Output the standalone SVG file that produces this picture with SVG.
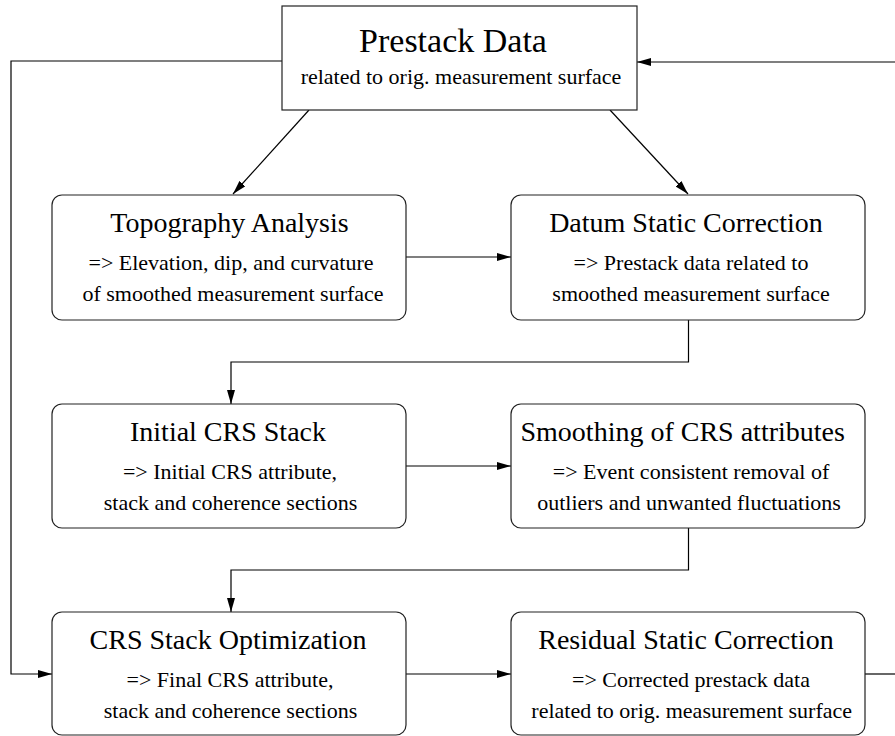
<svg xmlns="http://www.w3.org/2000/svg" width="895" height="736" viewBox="0 0 895 736">
  <style>
    .box { fill: #ffffff; stroke: #222222; stroke-width: 1.2; }
    .edge { fill: none; stroke: #000000; stroke-width: 1.2; }
    .title { font-family: "Liberation Serif", "Times New Roman", serif; font-size: 28px; fill: #000; text-anchor: middle; }
    .big { font-family: "Liberation Serif", "Times New Roman", serif; font-size: 34px; fill: #000; text-anchor: middle; }
    .sub { font-family: "Liberation Serif", "Times New Roman", serif; font-size: 22px; fill: #000; text-anchor: middle; }
  </style>
  <defs>
    <marker id="arrow" markerWidth="14" markerHeight="8" refX="14" refY="4" orient="auto" markerUnits="userSpaceOnUse">
      <path d="M0,0 L14,4 L0,8 Z" fill="#000"/>
    </marker>
  </defs>
  <rect width="895" height="736" fill="#ffffff"/>

  <g id="connectors">
    <!-- prestack data to the first two processing steps -->
    <line class="edge" x1="309" y1="110" x2="233" y2="194" marker-end="url(#arrow)"/>
    <line class="edge" x1="610" y1="110" x2="688" y2="194" marker-end="url(#arrow)"/>
    <!-- horizontal steps -->
    <line class="edge" x1="406" y1="257" x2="511" y2="257" marker-end="url(#arrow)"/>
    <line class="edge" x1="406" y1="466" x2="511" y2="466" marker-end="url(#arrow)"/>
    <line class="edge" x1="406" y1="674" x2="511" y2="674" marker-end="url(#arrow)"/>
    <!-- row to row -->
    <polyline class="edge" points="688.5,320 688.5,362 231,362 231,404" marker-end="url(#arrow)"/>
    <polyline class="edge" points="688.5,528 688.5,570 231,570 231,612" marker-end="url(#arrow)"/>
    <!-- feedback loops -->
    <polyline class="edge" points="282,61 11,61 11,674 52,674" marker-end="url(#arrow)"/>
    <line class="edge" x1="865" y1="674" x2="895" y2="674"/>
    <line class="edge" x1="895" y1="62" x2="637" y2="62" marker-end="url(#arrow)"/>
  </g>

  <g id="prestack-data">
    <rect class="box" x="282" y="6" width="355" height="104"/>
    <text class="big" x="453" y="52">Prestack Data</text>
    <text class="sub" x="461" y="84">related to orig. measurement surface</text>
  </g>

  <g id="topography-analysis">
    <rect class="box" x="52" y="195" width="354" height="125" rx="10" ry="10"/>
    <text class="title" x="229.5" y="232">Topography Analysis</text>
    <text class="sub" x="231" y="269.5">=&gt; Elevation, dip, and curvature</text>
    <text class="sub" x="233" y="300.5">of smoothed measurement surface</text>
  </g>

  <g id="datum-static-correction">
    <rect class="box" x="511" y="195" width="354" height="125" rx="10" ry="10"/>
    <text class="title" x="686" y="232">Datum Static Correction</text>
    <text class="sub" x="691" y="269.5">=&gt; Prestack data related to</text>
    <text class="sub" x="691" y="300.5">smoothed measurement surface</text>
  </g>

  <g id="initial-crs-stack">
    <rect class="box" x="52" y="404" width="354" height="124" rx="10" ry="10"/>
    <text class="title" x="228" y="441">Initial CRS Stack</text>
    <text class="sub" x="230" y="478.5">=&gt; Initial CRS attribute,</text>
    <text class="sub" x="230.5" y="509.5">stack and coherence sections</text>
  </g>

  <g id="smoothing-crs-attributes">
    <rect class="box" x="511" y="404" width="354" height="124" rx="10" ry="10"/>
    <text class="title" x="682.7" y="441">Smoothing of CRS attributes</text>
    <text class="sub" x="691" y="478.5">=&gt; Event consistent removal of</text>
    <text class="sub" x="689" y="509.5">outliers and unwanted fluctuations</text>
  </g>

  <g id="crs-stack-optimization">
    <rect class="box" x="52" y="612" width="354" height="123" rx="10" ry="10"/>
    <text class="title" x="228" y="649">CRS Stack Optimization</text>
    <text class="sub" x="230" y="686.5">=&gt; Final CRS attribute,</text>
    <text class="sub" x="230.5" y="717.5">stack and coherence sections</text>
  </g>

  <g id="residual-static-correction">
    <rect class="box" x="511" y="612" width="354" height="123" rx="10" ry="10"/>
    <text class="title" x="686" y="649">Residual Static Correction</text>
    <text class="sub" x="691" y="686.5">=&gt; Corrected prestack data</text>
    <text class="sub" x="691.7" y="717.5">related to orig. measurement surface</text>
  </g>
</svg>
